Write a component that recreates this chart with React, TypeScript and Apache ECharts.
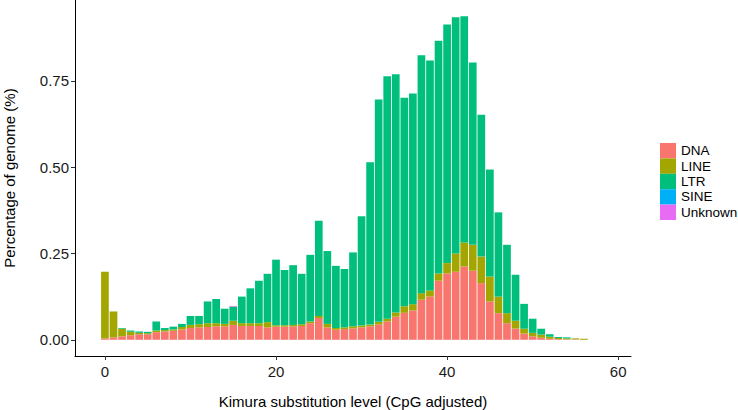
import React, { useEffect, useRef } from "react";
import * as echarts from "echarts";

const kimura = [
  0, 1, 2, 3, 4, 5, 6, 7, 8, 9, 10, 11, 12, 13, 14, 15, 16, 17, 18, 19, 20,
  21, 22, 23, 24, 25, 26, 27, 28, 29, 30, 31, 32, 33, 34, 35, 36, 37, 38, 39,
  40, 41, 42, 43, 44, 45, 46, 47, 48, 49, 50, 51, 52, 53, 54, 55, 56,
];

const dnaValues = [
  0.004, 0.007, 0.01, 0.013, 0.016, 0.016, 0.022, 0.024, 0.026, 0.03, 0.034,
  0.036, 0.037, 0.039, 0.039, 0.043, 0.04, 0.04, 0.04, 0.036, 0.038, 0.038,
  0.039, 0.04, 0.048, 0.063, 0.036, 0.029, 0.031, 0.033, 0.036, 0.039, 0.044,
  0.053, 0.067, 0.078, 0.085, 0.116, 0.125, 0.171, 0.192, 0.197, 0.212, 0.2,
  0.164, 0.111, 0.077, 0.048, 0.033, 0.018, 0.01, 0.006, 0.003, 0.002, 0.001,
  0.001, 0.0,
];

const lineValues = [
  0.193, 0.075, 0.022, 0.01, 0.004, 0.003, 0.005, 0.004, 0.004, 0.007, 0.009,
  0.009, 0.011, 0.009, 0.007, 0.012, 0.008, 0.008, 0.008, 0.015, 0.004, 0.004,
  0.004, 0.005, 0.005, 0.006, 0.01, 0.005, 0.005, 0.006, 0.005, 0.005, 0.008,
  0.008, 0.012, 0.019, 0.018, 0.019, 0.018, 0.021, 0.03, 0.053, 0.07, 0.075,
  0.077, 0.072, 0.048, 0.029, 0.022, 0.014, 0.01, 0.009, 0.006, 0.003, 0.003,
  0.003, 0.003,
];

const ltrValues = [
  0.0, 0.0, 0.002, 0.004, 0.004, 0.004, 0.026, 0.006, 0.008, 0.009, 0.026,
  0.024, 0.063, 0.07, 0.044, 0.041, 0.077, 0.101, 0.123, 0.14, 0.19, 0.16,
  0.173, 0.146, 0.193, 0.276, 0.211, 0.18, 0.169, 0.214, 0.317, 0.47, 0.644,
  0.702, 0.69, 0.604, 0.61, 0.689, 0.666, 0.674, 0.691, 0.684, 0.655, 0.528,
  0.411, 0.31, 0.244, 0.198, 0.133, 0.072, 0.041, 0.017, 0.007, 0.003, 0.003,
  0.0, 0.0,
];

const sineValues = kimura.map(() => 0);

const unknownValues = [
  0, 0, 0, 0, 0, 0, 0, 0, 0, 0, 0, 0, 0, 0, 0, 0.002, 0, 0, 0, 0, 0, 0, 0, 0,
  0, 0, 0, 0, 0, 0, 0, 0, 0, 0, 0, 0, 0, 0, 0, 0, 0, 0, 0, 0, 0, 0, 0, 0, 0,
  0, 0, 0, 0, 0, 0, 0, 0,
];

const seriesNames = ["DNA", "LINE", "LTR", "SINE", "Unknown"];
const seriesColors = ["#F8766D", "#A3A500", "#00BF7D", "#00B0F6", "#E76BF3"];
const seriesValues = [dnaValues, lineValues, ltrValues, sineValues, unknownValues];

// x axis range (one category per integer substitution level)
const xRangeMin = -3;
const xRangeMax = 61;
const xTicks = [0, 20, 40, 60];
const yTicks = [0, 0.25, 0.5, 0.75];

const FONT = "'Liberation Sans', Arial, sans-serif";

export default function App() {
  const ref = useRef<HTMLDivElement>(null);

  useEffect(() => {
    if (!ref.current) return;
    const chart = echarts.init(ref.current, undefined, { renderer: "svg" });
    const categories: string[] = [];
    for (let v = xRangeMin; v <= xRangeMax; v++) categories.push(String(v));
    const isTick = (_i: number, value: string) => xTicks.includes(Number(value));

    chart.setOption({
      animation: false,
      backgroundColor: "#ffffff",
      textStyle: { fontFamily: FONT },
      grid: {
        left: 75,
        top: 0,
        width: 556,
        height: 356,
        containLabel: false,
        outerBoundsMode: "none",
      },
      legend: {
        orient: "vertical",
        left: 660,
        top: 143,
        icon: "rect",
        itemWidth: 16,
        itemHeight: 15.4,
        itemGap: 0,
        padding: 0,
        data: seriesNames,
        textStyle: { fontSize: 13.5, color: "#000", fontFamily: FONT },
      },
      xAxis: {
        type: "category",
        data: categories,
        boundaryGap: true,
        splitLine: { show: false },
        axisLine: { show: true, onZero: false, lineStyle: { color: "#000", width: 1 } },
        axisTick: {
          show: true,
          length: 4,
          alignWithLabel: true,
          interval: isTick,
          lineStyle: { color: "#333", width: 1 },
        },
        axisLabel: {
          interval: isTick,
          margin: 8,
          fontSize: 15,
          color: "#1a1a1a",
          fontFamily: FONT,
        },
        name: "Kimura substitution level (CpG adjusted)",
        nameLocation: "middle",
        nameGap: 38,
        nameTextStyle: { fontSize: 15, color: "#000", fontFamily: FONT },
      },
      yAxis: {
        type: "value",
        min: -0.047,
        max: 0.984,
        splitLine: { show: false },
        axisLine: { show: true, onZero: false, lineStyle: { color: "#000", width: 1 } },
        axisTick: {
          show: true,
          length: 4,
          customValues: yTicks,
          lineStyle: { color: "#333", width: 1 },
        },
        axisLabel: {
          customValues: yTicks,
          margin: 6,
          fontSize: 15,
          color: "#1a1a1a",
          fontFamily: FONT,
          formatter: (v: number) => v.toFixed(2),
        },
        name: "Percentage of genome (%)",
        nameLocation: "middle",
        nameGap: 58,
        nameTextStyle: { fontSize: 15, color: "#000", fontFamily: FONT },
      },
      series: seriesNames.map((name, i) => ({
        name,
        type: "bar",
        stack: "total",
        barWidth: "90%",
        itemStyle: { color: seriesColors[i] },
        data: categories.map((c) => {
          const j = kimura.indexOf(Number(c));
          return j >= 0 ? seriesValues[i][j] : null;
        }),
      })),
    });
    return () => chart.dispose();
  }, []);

  return (
    <div
      ref={ref}
      style={{ position: "fixed", left: 0, top: 0, width: 738, height: 410 }}
    />
  );
}
